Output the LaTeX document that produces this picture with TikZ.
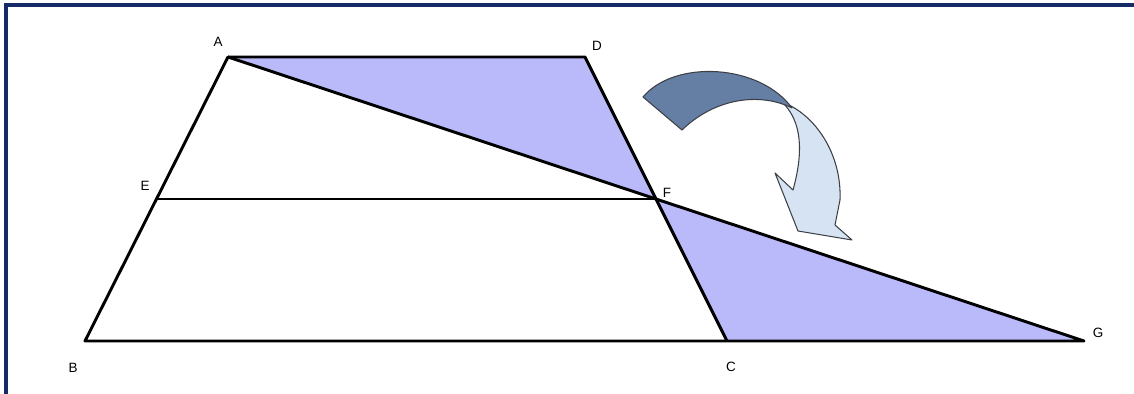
\documentclass[tikz,border=0pt]{standalone}
\usepackage{fontspec}
\newfontfamily\lblfont{Liberation Sans}
\usetikzlibrary{calc}
\definecolor{framenavy}{RGB}{22,42,104}
\definecolor{shadeblue}{RGB}{186,186,250}
\definecolor{arrowdark}{RGB}{100,127,163}
\definecolor{arrowlight}{RGB}{214,227,242}
\definecolor{arrowedge}{RGB}{60,64,70}

\begin{document}
\begin{tikzpicture}[x=0.03cm,y=0.03cm,
  every node/.style={font=\lblfont\fontsize{11.5}{13}\selectfont,inner sep=0pt},
  fig/.style={line width=2.5pt,line join=round}]
  \useasboundingbox (0,0) rectangle (1134,394);
  \clip (0,0) rectangle (1134,394);
  \draw[framenavy,line width=2.6pt] (6,-20) rectangle (1160,389);
  \coordinate (A) at (228,337);
  \coordinate (D) at (585,337);
  \coordinate (B) at (85,53);
  \coordinate (C) at (727,53);
  \coordinate (E) at ($(A)!0.5!(B)$);
  \coordinate (F) at ($(D)!0.5!(C)$);
  \coordinate (G) at ($(A)!2!(F)$);
  \fill[shadeblue] (A) -- (D) -- (F) -- cycle;
  \fill[shadeblue] (F) -- (C) -- (G) -- cycle;
  \draw[fig] (A) -- (B) -- (G) -- cycle;
  \draw[fig] (A) -- (D) -- (C);
  \draw[fig] (E) -- (F);
  % curved arrow
  \draw[arrowedge,fill=arrowlight,line width=0.9pt,line join=round]
    (782,292) .. controls (815,280) and (842,240) .. (840,194)
    -- (835,169) -- (852,154) -- (798,163) -- (775,221) -- (793,204)
    .. controls (803,240) and (803,272) .. (782,292) -- cycle;
  \draw[arrowedge,fill=arrowdark,line width=0.9pt,line join=round]
    (643,297) .. controls (675,335) and (760,330) .. (792,286)
    .. controls (760,302) and (715,296) .. (682,264) -- cycle;
  \node (lA) at (218,352) {A};
  \node (lD) at (597,348) {D};
  \node (lE) at (145,208) {E};
  \node (lF) at (667,201) {F};
  \node (lB) at (73,26) {B};
  \node (lC) at (731,27) {C};
  \node (lG) at (1098,61) {G};
\end{tikzpicture}
\end{document}
